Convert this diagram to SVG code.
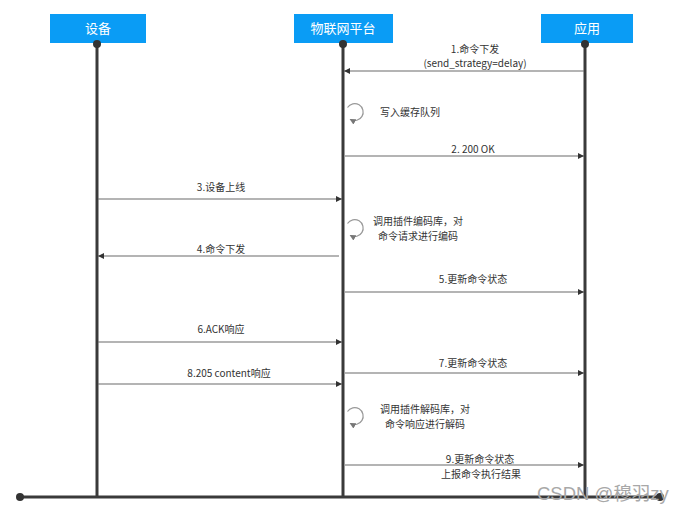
<svg xmlns="http://www.w3.org/2000/svg" width="682" height="512" viewBox="0 0 682 512">
<style>
.box{fill:#0a9cf5}
.bt{fill:#fff;font-family:"Noto Sans CJK SC","Noto Sans",sans-serif;font-size:13px;text-anchor:middle}
.life{stroke:#3a3a3a;stroke-width:3;fill:none}
.msg{stroke:#6a6a6a;stroke-width:1.2;fill:none}
.lbl{fill:#333;font-family:"Noto Sans CJK SC","Noto Sans",sans-serif;font-size:10px;text-anchor:middle}
.lbs{fill:#333;font-family:"Noto Sans CJK SC","Noto Sans",sans-serif;font-size:10px}
.loop{stroke:#999;stroke-width:1.2;fill:none}
</style>
<defs>
<marker id="ah" viewBox="0 0 6 6" refX="6" refY="3" markerWidth="6" markerHeight="6" markerUnits="userSpaceOnUse" orient="auto">
<path d="M0,0 L6,3 L0,6 Z" fill="#333"/>
</marker>
<marker id="lh" viewBox="0 0 6 6" refX="5" refY="3" markerWidth="6" markerHeight="6" markerUnits="userSpaceOnUse" orient="auto">
<path d="M0,0 L6,3 L0,6 Z" fill="#777"/>
</marker>
</defs>
<rect width="682" height="512" fill="#fff"/>
<g id="device">
<rect class="box" x="50" y="14" width="96" height="29"/>
<text class="bt" x="98" y="33">设备</text>
<line class="life" x1="97" y1="43" x2="97" y2="497"/>
<circle cx="97" cy="44" r="4" fill="#333"/>
</g>
<g id="platform">
<rect class="box" x="294" y="14" width="99" height="29"/>
<text class="bt" x="343" y="33">物联网平台</text>
<line class="life" x1="343" y1="43" x2="343" y2="497"/>
<circle cx="343" cy="44" r="4" fill="#333"/>
</g>
<g id="app">
<rect class="box" x="541" y="14" width="92" height="29"/>
<text class="bt" x="587" y="33">应用</text>
<line class="life" x1="585" y1="43" x2="585" y2="497"/>
<circle cx="585" cy="44" r="4" fill="#333"/>
</g>
<g id="timeline">
<line class="life" x1="20" y1="497" x2="660" y2="497"/>
<circle cx="20" cy="497" r="4" fill="#333"/>
<circle cx="660" cy="497" r="4" fill="#333"/>
</g>
<g id="connectors">
<line class="msg" x1="584" y1="71" x2="344" y2="71" marker-end="url(#ah)"/>
<line class="msg" x1="345" y1="156" x2="584" y2="156" marker-end="url(#ah)" stroke="#aaa"/>
<line class="msg" x1="98" y1="199" x2="342" y2="199" marker-end="url(#ah)"/>
<line class="msg" x1="339" y1="256" x2="98" y2="256" marker-end="url(#ah)"/>
<line class="msg" x1="345" y1="292" x2="584" y2="292" marker-end="url(#ah)"/>
<line class="msg" x1="98" y1="342" x2="342" y2="342" marker-end="url(#ah)"/>
<line class="msg" x1="345" y1="373" x2="584" y2="373" marker-end="url(#ah)"/>
<line class="msg" x1="98" y1="384" x2="342" y2="384" marker-end="url(#ah)"/>
<line class="msg" x1="345" y1="465" x2="584" y2="465" marker-end="url(#ah)"/>
<path class="loop" d="M347.5,107.5 A8.5 8.5 0 1 1 350.5,119.5" marker-end="url(#lh)"/>
<path class="loop" d="M347.5,223.5 A8.5 8.5 0 1 1 350.5,235.5" marker-end="url(#lh)"/>
<path class="loop" d="M347.5,411.5 A8.5 8.5 0 1 1 350.5,423.5" marker-end="url(#lh)"/>
</g>
<g id="labels">
<text class="lbl" x="475" y="53">1.命令下发</text>
<text class="lbl" x="475" y="67">(send_strategy=delay)</text>
<text class="lbs" x="380" y="116">写入缓存队列</text>
<text class="lbl" x="473" y="153">2. 200 OK</text>
<text class="lbl" x="221" y="191">3.设备上线</text>
<text class="lbs" x="373" y="225">调用插件编码库，对</text>
<text class="lbs" x="378" y="240">命令请求进行编码</text>
<text class="lbl" x="221" y="253">4.命令下发</text>
<text class="lbl" x="473" y="283">5.更新命令状态</text>
<text class="lbl" x="221" y="333">6.ACK响应</text>
<text class="lbl" x="473" y="367">7.更新命令状态</text>
<text class="lbl" x="229" y="377">8.205 content响应</text>
<text class="lbs" x="380" y="413">调用插件解码库，对</text>
<text class="lbs" x="385" y="428">命令响应进行解码</text>
<text class="lbl" x="480" y="463">9.更新命令状态</text>
<text class="lbl" x="481" y="478">上报命令执行结果</text>
<text x="537" y="500" fill="#a8a8a8" font-family="'Liberation Sans','Noto Sans CJK SC',sans-serif" font-size="18.5">CSDN @穆羽zy</text>
</g>
</svg>
